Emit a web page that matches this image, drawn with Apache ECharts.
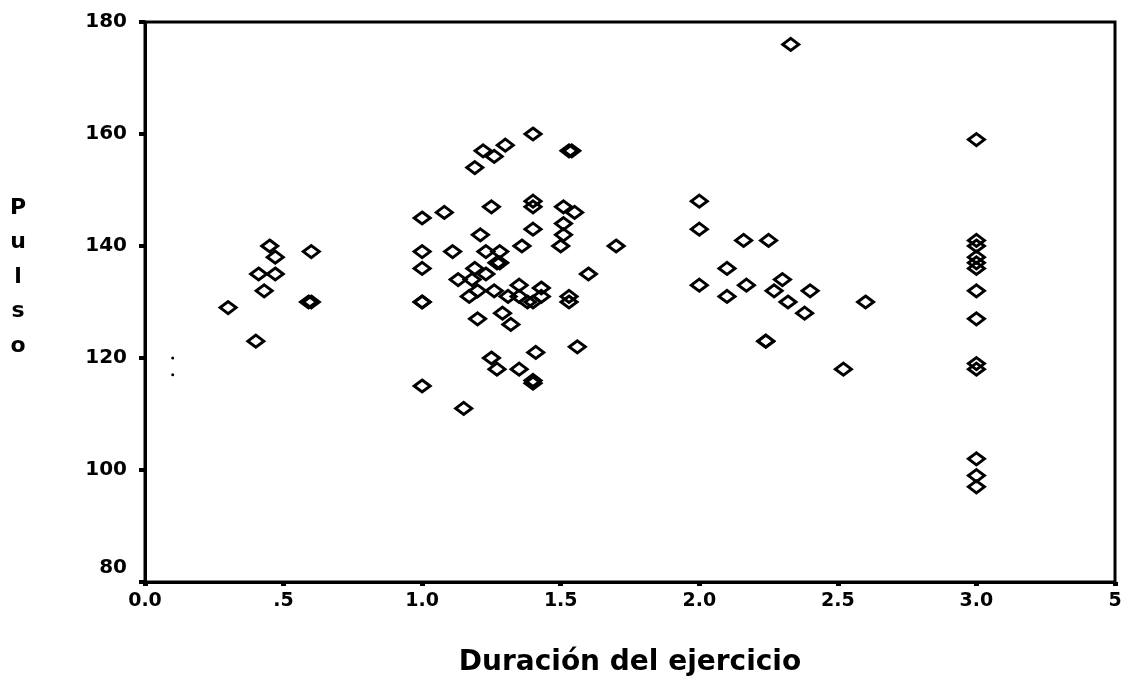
<!DOCTYPE html>
<html>
<head>
<meta charset="utf-8">
<script src="https://cdn.jsdelivr.net/npm/echarts@6/dist/echarts.min.js"></script>
<style>
  html, body { margin: 0; padding: 0; background: #fff; }
  #chart { width: 1138px; height: 682px; }
</style>
</head>
<body>
<div id="chart"></div>
<script>
// datos
const duracion = [
  0.30, 0.40, 0.45, 0.47, 0.41, 0.47, 0.43, 0.60, 0.59, 0.60,
  1.40, 1.53, 1.54, 1.22, 1.30, 1.26, 1.19,
  1.40, 1.40, 1.25, 1.51, 1.55, 1.08, 1.00, 1.40, 1.51, 1.21, 1.51,
  1.36, 1.50, 1.70, 1.00, 1.11, 1.23, 1.28, 1.00, 1.60, 1.19, 1.27, 1.28,
  1.13, 1.18, 1.23, 1.20, 1.17, 1.26, 1.31, 1.35, 1.35, 1.38, 1.40, 1.43, 1.43,
  1.00, 1.00, 1.53, 1.53, 1.20, 1.29, 1.32, 1.56, 1.41, 1.25, 1.27, 1.35,
  1.40, 1.40, 1.00, 1.15,
  2.00, 2.00, 2.16, 2.25, 2.10, 2.00, 2.17, 2.10, 2.30, 2.27, 2.40, 2.32,
  2.38, 2.60, 2.24, 2.24, 2.52, 2.33,
  3.00, 3.00, 3.00, 3.00, 3.00, 3.00, 3.00, 3.00, 3.00, 3.00, 3.00, 3.00, 3.00
];
const pulso = [
  129, 123, 140, 138, 135, 135, 132, 139, 130, 130,
  160, 157, 157, 157, 158, 156, 154,
  148, 147, 147, 147, 146, 146, 145, 143, 144, 142, 142,
  140, 140, 140, 139, 139, 139, 139, 136, 135, 136, 137, 137,
  134, 134, 135, 132, 131, 132, 131, 133, 131, 130, 130, 132.5, 131,
  130, 130, 131, 130, 127, 128, 126, 122, 121, 120, 118, 118,
  115.5, 116, 115, 111,
  148, 143, 141, 141, 136, 133, 133, 131, 134, 132, 132, 130,
  128, 130, 123, 123, 118, 176,
  159, 141, 140, 138, 137, 136, 132, 127, 119, 118, 102, 99, 97
];
// marcas pequenas junto al eje
const marcasX = [0.10, 0.10];
const marcasY = [120, 117];

const xTickLabels = ['0.0', '.5', '1.0', '1.5', '2.0', '2.5', '3.0', '5'];
const yTicks = [80, 100, 120, 140, 160, 180];

const fuente = 'DejaVu Sans';

const myChart = echarts.init(document.getElementById('chart'));
const option = {
  backgroundColor: '#fff',
  animation: false,
  grid: {
    left: 145,
    right: 23,
    top: 22,
    bottom: 100,
    show: true,
    borderColor: '#000',
    borderWidth: 3
  },
  xAxis: {
    type: 'value',
    min: 0,
    max: 3.5,
    interval: 0.5,
    name: 'Duración del ejercicio',
    nameLocation: 'middle',
    nameGap: 67,
    nameTextStyle: { color: '#000', fontFamily: fuente, fontWeight: 'bold', fontSize: 28 },
    axisLine: { show: true, onZero: false, lineStyle: { color: '#000', width: 3 } },
    axisTick: { show: true, length: 4, lineStyle: { color: '#000', width: 5 } },
    axisLabel: {
      color: '#000', fontFamily: fuente, fontWeight: 'bold', fontSize: 19, margin: 10,
      formatter: function (v) { return xTickLabels[Math.round(v / 0.5)]; }
    },
    splitLine: { show: false }
  },
  yAxis: {
    type: 'value',
    min: yTicks[0],
    max: yTicks[yTicks.length - 1],
    interval: 20,
    axisLine: { show: true, onZero: false, lineStyle: { color: '#000', width: 3 } },
    axisTick: { show: true, length: 6, lineStyle: { color: '#000', width: 4 } },
    axisLabel: {
      color: '#000', fontFamily: fuente, fontWeight: 'bold', fontSize: 20, margin: 18,
      formatter: function (v) { return v === yTicks[0] ? '{lo|' + v + '}' : String(v); },
      rich: {
        lo: { color: '#000', fontFamily: fuente, fontWeight: 'bold', fontSize: 20, padding: [0, 0, 28, 0] }
      }
    },
    splitLine: { show: false }
  },
  graphic: [
    {
      type: 'text',
      x: 18,
      y: 277,
      style: {
        text: 'P\nu\nl\ns\no',
        fill: '#000',
        font: 'bold 22px "DejaVu Sans"',
        align: 'center',
        verticalAlign: 'middle',
        lineHeight: 34.5
      }
    }
  ],
  series: [
    {
      name: 'Pulso',
      type: 'scatter',
      symbol: 'diamond',
      symbolSize: [16, 12],
      itemStyle: { color: 'rgba(0,0,0,0)', borderColor: '#000', borderWidth: 3, opacity: 1 },
      data: duracion.map(function (d, i) { return [d, pulso[i]]; })
    },
    {
      name: 'marcas',
      type: 'scatter',
      symbol: 'circle',
      symbolSize: 3,
      itemStyle: { color: '#000', opacity: 1 },
      data: marcasX.map(function (d, i) { return [d, marcasY[i]]; })
    }
  ]
};
myChart.setOption(option);
window.addEventListener('resize', function () {
  myChart.resize();
});
</script>
</body>
</html>
